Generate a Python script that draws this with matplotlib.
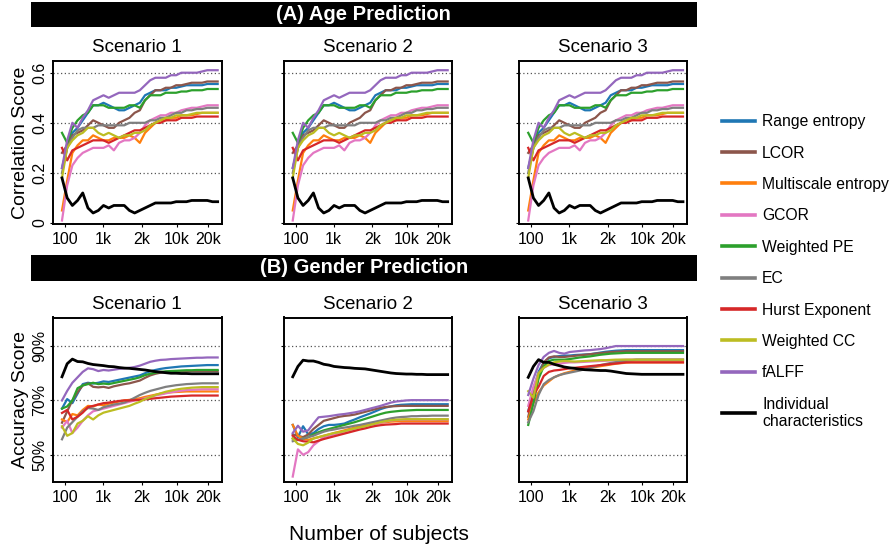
import matplotlib
matplotlib.use("Agg")
import matplotlib.pyplot as plt
from matplotlib.patches import Rectangle

plt.rcParams['font.family'] = ['Liberation Sans', 'DejaVu Sans']

# ---- data (31 steps along the subject-count axis) ----
tick_pos = [0.6, 7.9, 15.4, 22.1, 28.1]
tick_labels = ['100', '1k', '2k', '10k', '20k']

feature_names = ['Range entropy', 'LCOR', 'Multiscale entropy', 'GCOR', 'Weighted PE',
                 'EC', 'Hurst Exponent', 'Weighted CC', 'fALFF', 'Individual\ncharacteristics']
feature_colors = ['#1f77b4', '#8c564b', '#ff7f0e', '#e377c2', '#2ca02c',
                  '#7f7f7f', '#d62728', '#bcbd22', '#9467bd', '#000000']
scenarios = ['Scenario 1', 'Scenario 2', 'Scenario 3']

# Age prediction (correlation), same curves in all three scenarios
age_range_entropy = [0.22, 0.30, 0.36, 0.38, 0.41, 0.44, 0.47, 0.47, 0.48, 0.47, 0.46, 0.45, 0.45, 0.46, 0.47, 0.48,
                     0.51, 0.52, 0.53, 0.53, 0.53, 0.54, 0.54, 0.545, 0.55, 0.55, 0.55, 0.55, 0.555, 0.555, 0.555]
age_lcor = [0.28, 0.31, 0.35, 0.36, 0.37, 0.39, 0.41, 0.40, 0.39, 0.38, 0.38, 0.40, 0.41, 0.42, 0.44, 0.45,
            0.49, 0.51, 0.53, 0.53, 0.54, 0.54, 0.55, 0.55, 0.555, 0.56, 0.56, 0.56, 0.565, 0.565, 0.565]
age_multiscale = [0.05, 0.17, 0.28, 0.31, 0.33, 0.33, 0.35, 0.34, 0.33, 0.33, 0.34, 0.34, 0.34, 0.35, 0.34, 0.32,
                  0.36, 0.38, 0.40, 0.41, 0.41, 0.42, 0.42, 0.43, 0.43, 0.43, 0.435, 0.44, 0.44, 0.44, 0.44]
age_gcor = [0.01, 0.15, 0.23, 0.26, 0.28, 0.29, 0.30, 0.30, 0.30, 0.31, 0.29, 0.32, 0.33, 0.33, 0.34, 0.36,
            0.39, 0.41, 0.42, 0.43, 0.43, 0.44, 0.44, 0.45, 0.455, 0.46, 0.46, 0.465, 0.47, 0.47, 0.47]
age_weighted_pe = [0.36, 0.32, 0.38, 0.41, 0.43, 0.44, 0.47, 0.47, 0.47, 0.46, 0.46, 0.46, 0.46, 0.47, 0.47, 0.46,
                   0.49, 0.51, 0.51, 0.51, 0.52, 0.52, 0.52, 0.525, 0.525, 0.53, 0.53, 0.53, 0.535, 0.535, 0.535]
age_ec = [0.20, 0.30, 0.34, 0.37, 0.38, 0.38, 0.38, 0.39, 0.39, 0.39, 0.39, 0.39, 0.39, 0.40, 0.40, 0.40,
          0.40, 0.41, 0.41, 0.42, 0.42, 0.43, 0.44, 0.44, 0.45, 0.45, 0.455, 0.455, 0.46, 0.46, 0.46]
age_hurst = [0.30, 0.25, 0.29, 0.30, 0.31, 0.32, 0.33, 0.33, 0.33, 0.32, 0.33, 0.34, 0.35, 0.36, 0.37, 0.37,
             0.38, 0.39, 0.40, 0.40, 0.41, 0.41, 0.41, 0.42, 0.42, 0.42, 0.425, 0.425, 0.425, 0.425, 0.425]
age_weighted_cc = [0.18, 0.30, 0.33, 0.35, 0.36, 0.38, 0.38, 0.36, 0.35, 0.36, 0.35, 0.34, 0.35, 0.35, 0.36, 0.36,
                   0.37, 0.39, 0.40, 0.41, 0.42, 0.42, 0.43, 0.43, 0.43, 0.435, 0.44, 0.44, 0.44, 0.44, 0.44]
age_falff = [0.22, 0.33, 0.40, 0.38, 0.42, 0.45, 0.49, 0.50, 0.51, 0.50, 0.51, 0.52, 0.52, 0.52, 0.52, 0.53,
             0.55, 0.57, 0.58, 0.58, 0.58, 0.59, 0.59, 0.60, 0.60, 0.60, 0.60, 0.605, 0.61, 0.61, 0.61]
age_individual = [0.18, 0.10, 0.07, 0.09, 0.12, 0.06, 0.04, 0.05, 0.07, 0.06, 0.07, 0.07, 0.07, 0.05, 0.04, 0.05,
                  0.06, 0.07, 0.08, 0.08, 0.08, 0.08, 0.085, 0.085, 0.085, 0.09, 0.09, 0.09, 0.09, 0.085, 0.085]

# Gender prediction (accuracy %), scenario 1
g1_range_entropy = [67, 70.5, 69, 72.5, 76, 76.5, 76.2, 76.5, 77, 76.8, 77.2, 77.6, 78.0, 78.4, 78.8, 79.2,
                    80.0, 80.7, 81.2, 81.6, 81.9, 82.1, 82.3, 82.5, 82.6, 82.7, 82.8, 82.9, 83.0, 83.0, 83.0]
g1_lcor = [61.8, 66, 70, 73, 75.5, 76.3, 75, 74.8, 75, 74.6, 75.2, 75.6, 76, 76.3, 76.8, 77.3,
           78.3, 79.2, 79.8, 80.2, 80.5, 80.6, 80.7, 80.8, 80.8, 80.8, 80.8, 80.8, 80.8, 80.8, 80.8]
g1_multiscale = [63, 62, 65, 64.5, 66.5, 68, 67.8, 68.5, 68.2, 68.8, 69.2, 69.6, 70, 70.2, 70.5, 70.8,
                 71.3, 71.7, 72.1, 72.5, 72.8, 73, 73.1, 73.2, 73.3, 73.3, 73.3, 73.3, 73.3, 73.3, 73.3]
g1_gcor = [60, 62.5, 58, 60, 62.5, 64.5, 66, 66.5, 67, 67.5, 68, 68.5, 69, 69.5, 70, 70.3,
           70.8, 71.3, 71.8, 72.2, 72.6, 73, 73.3, 73.6, 73.8, 73.9, 74, 74.1, 74.1, 74.1, 74.1]
g1_weighted_pe = [67, 67.8, 70, 74.5, 75.5, 76, 76.5, 76, 76.2, 76, 76.4, 76.8, 77.2, 77.6, 78, 78.5,
                  79.3, 79.8, 80.2, 80.5, 80.7, 80.8, 80.9, 81.0, 81.1, 81.1, 81.2, 81.2, 81.2, 81.2, 81.2]
g1_ec = [55.7, 60, 62, 64, 66, 67.2, 67, 66.5, 67.5, 68, 68.5, 68.8, 69.2, 70, 71, 72,
         72.8, 73.5, 74, 74.5, 75, 75.3, 75.6, 75.8, 76, 76.1, 76.2, 76.3, 76.3, 76.3, 76.3]
g1_hurst = [65.4, 66.5, 63, 64, 65.5, 67.5, 68, 68.5, 69, 69.2, 69.5, 69.8, 70, 70, 70.1, 70.2,
            70.4, 70.6, 70.8, 71, 71.2, 71.4, 71.5, 71.6, 71.7, 71.8, 71.8, 71.8, 71.8, 71.8, 71.8]
g1_weighted_cc = [60.5, 57, 58, 61.5, 62.5, 64.2, 63, 64.5, 65.5, 66, 66.5, 67, 67.5, 68, 68.8, 69.5,
                  70.5, 71.2, 72, 72.6, 73.2, 73.6, 74, 74.3, 74.5, 74.7, 74.8, 74.9, 74.9, 74.9, 74.9]
g1_falff = [70, 73.5, 76.5, 78.5, 80.5, 81.8, 81.5, 80.8, 81.2, 81.0, 81.3, 81.6, 81.8, 82.0, 82.3, 82.8,
            83.5, 84.2, 84.6, 84.9, 85.0, 85.2, 85.3, 85.4, 85.5, 85.6, 85.7, 85.7, 85.8, 85.8, 85.8]
g1_individual = [78.7, 83.5, 85.2, 84.3, 84.2, 83.6, 83.2, 83.0, 82.8, 82.5, 82.4, 82.1, 81.9, 81.8, 81.6, 81.4,
                 81.2, 80.9, 80.6, 80.4, 80.2, 80.0, 80.0, 79.9, 79.9, 79.8, 79.8, 79.8, 79.8, 79.8, 79.8]

# Gender prediction, scenario 2
g2_range_entropy = [61, 56.5, 60.5, 57.5, 58, 59.5, 60.5, 61, 61, 61.2, 61.5, 62.3, 63, 63.8, 64.5, 65.2,
                    66, 66.8, 67.4, 67.8, 68.2, 68.4, 68.5, 68.6, 68.6, 68.6, 68.6, 68.6, 68.6, 68.6, 68.6]
g2_lcor = [57.5, 57, 56.5, 57.5, 59.5, 61, 62.5, 63, 63.5, 64, 64.3, 64.5, 64.8, 65.3, 65.8, 66.3,
           66.8, 67.3, 67.6, 67.8, 67.9, 68, 68, 68, 68, 68, 68, 68, 68, 68, 68]
g2_multiscale = [61, 57, 56, 55.5, 56, 56.5, 57, 57.5, 58, 58.5, 59, 59.5, 60, 60.5, 60.8, 61.2,
                 61.5, 61.8, 62, 62.2, 62.3, 62.4, 62.4, 62.4, 62.4, 62.4, 62.4, 62.4, 62.4, 62.4, 62.4]
g2_gcor = [42, 52, 50, 51, 53.5, 55, 56.5, 57, 57.5, 58, 58.3, 58.8, 59.3, 59.8, 60.3, 60.8,
           61.3, 61.8, 62.3, 62.6, 62.8, 62.9, 63, 63, 63, 63, 63, 63, 63, 63, 63]
g2_weighted_pe = [56, 55.5, 56, 56.5, 57.5, 58.3, 59, 59.5, 60, 60.5, 61, 61.5, 62, 62.6, 63.2, 63.8,
                  64.4, 65, 65.5, 65.8, 66, 66.2, 66.3, 66.4, 66.5, 66.5, 66.5, 66.5, 66.5, 66.5, 66.5]
g2_ec = [55, 55.5, 56, 56.5, 57, 57.8, 58.5, 59, 59.3, 59.7, 60, 60.3, 60.7, 61, 61.4, 61.8,
         62.2, 62.6, 63, 63.4, 63.7, 63.9, 64, 64.2, 64.2, 64.3, 64.3, 64.4, 64.4, 64.4, 64.4]
g2_hurst = [57, 55.5, 55, 54.8, 54.6, 55.2, 55.8, 56.3, 56.8, 57.3, 57.8, 58.3, 58.8, 59.3, 59.7, 60.2,
            60.6, 60.9, 61.1, 61.2, 61.3, 61.5, 61.5, 61.5, 61.5, 61.5, 61.5, 61.5, 61.5, 61.5, 61.5]
g2_weighted_cc = [56, 54, 53.5, 54.5, 56, 56.5, 57, 57.5, 58, 58.3, 58.7, 59.2, 59.7, 60.1, 60.5, 61,
                  61.5, 62, 62.4, 62.7, 62.9, 63, 63.1, 63.1, 63.1, 63.1, 63.1, 63.1, 63.1, 63.1, 63.1]
g2_falff = [58, 60.7, 58.5, 59, 61.5, 63.8, 64, 64.2, 64.5, 64.8, 65, 65.3, 65.6, 66, 66.5, 67,
            67.5, 68, 68.6, 69.2, 69.6, 69.8, 70, 70.1, 70.1, 70.1, 70.1, 70.1, 70.1, 70.1, 70.1]
g2_individual = [78.7, 82.5, 84.8, 84.5, 84.5, 84, 83.3, 83, 82.5, 82.3, 82.1, 82, 81.8, 81.7, 81.6, 81.3,
                 81, 80.7, 80.4, 80.1, 79.9, 79.8, 79.7, 79.7, 79.6, 79.6, 79.5, 79.5, 79.5, 79.5, 79.5]

# Gender prediction, scenario 3
g3_range_entropy = [66, 74, 80.5, 84, 85.5, 86, 86.3, 86.5, 86.5, 86.7, 86.8, 86.9, 87, 87.3, 87.6, 87.9,
                    88.1, 88.3, 88.4, 88.5, 88.5, 88.5, 88.5, 88.5, 88.5, 88.5, 88.5, 88.5, 88.5, 88.5, 88.5]
g3_lcor = [64, 72, 79, 84, 85.8, 86.2, 86, 86, 86.2, 86.4, 86.6, 86.8, 87, 87.2, 87.4, 87.6,
           87.8, 87.9, 88, 88.1, 88.1, 88.1, 88.1, 88.1, 88.1, 88.1, 88.1, 88.1, 88.1, 88.1, 88.1]
g3_multiscale = [63, 69, 73, 75.5, 77, 78.5, 79.3, 80, 80.5, 81, 81.5, 81.8, 82, 82.3, 82.6, 82.9,
                 83.2, 83.5, 83.7, 83.9, 84, 84, 84, 84, 84, 84, 84, 84, 84, 84, 84]
g3_gcor = [68, 75, 80, 82, 83, 83.3, 83.5, 83.8, 84, 84, 84.1, 84.2, 84.3, 84.4, 84.5, 84.6,
           84.7, 84.8, 84.9, 85, 85, 85, 85, 85, 85, 85, 85, 85, 85, 85, 85]
g3_weighted_pe = [61, 69, 78, 82.5, 84.5, 85, 85, 85, 85.2, 85.5, 85.8, 86, 86.2, 86.5, 86.8, 87,
                  87.2, 87.3, 87.4, 87.5, 87.5, 87.5, 87.5, 87.5, 87.5, 87.5, 87.5, 87.5, 87.5, 87.5, 87.5]
g3_ec = [62, 66, 72, 76, 77.5, 78.5, 79.3, 79.8, 80.2, 80.6, 81, 81.5, 82, 82.5, 83, 83.4,
         83.8, 84.1, 84.4, 84.6, 84.8, 85, 85, 85, 85, 85, 85, 85, 85, 85, 85]
g3_hurst = [66, 72, 75, 79, 80.5, 81, 81.2, 81.5, 81.8, 82, 82.2, 82.4, 82.6, 82.8, 83, 83.2,
            83.4, 83.6, 83.8, 84, 84, 84, 84, 84, 84, 84, 84, 84, 84, 84, 84]
g3_weighted_cc = [73.4, 71, 80, 82, 83.2, 84, 84.3, 84.5, 84.4, 84.3, 84.4, 84.5, 84.6, 84.7, 84.8, 84.8,
                  84.9, 85, 85, 85, 85, 85, 85, 85, 85, 85, 85, 85, 85, 85, 85]
g3_falff = [72, 78, 83, 86, 87.5, 88.2, 87.5, 87.2, 87.8, 88, 88.2, 88.4, 88.5, 88.7, 88.9, 89.2,
            89.6, 90, 90, 90, 90, 90, 90, 90, 90, 90, 90, 90, 90, 90, 90]
g3_individual = [78.5, 82.5, 85, 84, 84, 83.3, 82.8, 82.3, 82, 81.8, 81.5, 81.3, 81.2, 81.1, 81, 81,
                 80.8, 80.5, 80.2, 79.9, 79.8, 79.7, 79.6, 79.6, 79.6, 79.6, 79.6, 79.6, 79.6, 79.6, 79.6]

age_series = [age_range_entropy, age_lcor, age_multiscale, age_gcor, age_weighted_pe,
              age_ec, age_hurst, age_weighted_cc, age_falff, age_individual]
gender_series = [
    [g1_range_entropy, g1_lcor, g1_multiscale, g1_gcor, g1_weighted_pe,
     g1_ec, g1_hurst, g1_weighted_cc, g1_falff, g1_individual],
    [g2_range_entropy, g2_lcor, g2_multiscale, g2_gcor, g2_weighted_pe,
     g2_ec, g2_hurst, g2_weighted_cc, g2_falff, g2_individual],
    [g3_range_entropy, g3_lcor, g3_multiscale, g3_gcor, g3_weighted_pe,
     g3_ec, g3_hurst, g3_weighted_cc, g3_falff, g3_individual],
]

W, H = 896, 547
fig = plt.figure(figsize=(W / 100, H / 100), dpi=100)


def px_axes(x0, y0, x1, y1):
    """Add axes given pixel box (top-left origin)."""
    return fig.add_axes([x0 / W, 1 - y1 / H, (x1 - x0) / W, (y1 - y0) / H])


def banner(y0, y1, text):
    fig.add_artist(Rectangle((30.7 / W, 1 - y1 / H), (697 - 30.7) / W, (y1 - y0) / H,
                             transform=fig.transFigure, facecolor='black', edgecolor='none'))
    fig.text((30.7 + 697) / 2 / W, 1 - (y0 + y1) / 2 / H, text, color='white',
             fontsize=14.5, fontweight='bold', ha='center', va='center')


def style_axes(ax, show_ylabels):
    ax.set_xlim(-1.79, 30.78)
    ax.set_xticks(tick_pos)
    ax.set_xticklabels(tick_labels)
    ax.tick_params(axis='x', labelsize=11.5, length=2, pad=4)
    ax.tick_params(axis='y', labelsize=11.5, length=2, pad=2, labelleft=show_ylabels)
    for lbl in ax.get_yticklabels():
        lbl.set_rotation(90)
        lbl.set_va('center')
    for sp in ax.spines.values():
        sp.set_linewidth(1.4)


col_x = [(52.7, 221.7), (283.5, 451.7), (519, 687)]
x = list(range(31))

banner(2.5, 27, '(A) Age Prediction')
banner(255.5, 280.5, '(B) Gender Prediction')

lines_for_legend = []
for c, (x0, x1) in enumerate(col_x):
    ax = px_axes(x0, 60.7, x1, 224)
    for ref in [0.2, 0.4, 0.6]:
        ax.axhline(ref, color='#555555', linestyle=(0, (1, 2)), linewidth=0.9, zorder=0)
    for vals, col in zip(age_series, feature_colors):
        lw = 2.0 if col == '#000000' else 1.6
        ax.plot(x, vals, color=col, linewidth=lw)
    ax.set_ylim(-0.004, 0.648)
    ax.set_yticks([0, 0.2, 0.4, 0.6])
    ax.set_yticklabels(['0', '0.2', '0.4', '0.6'])
    style_axes(ax, c == 0)
    ax.set_title(scenarios[c], fontsize=13.5, pad=6)
    if c == 0:
        ax.set_ylabel('Correlation Score', fontsize=14, labelpad=2)

    ax = px_axes(x0, 317.5, x1, 482)
    for ref in [50, 70, 90]:
        ax.axhline(ref, color='#555555', linestyle=(0, (1, 2)), linewidth=0.9, zorder=0)
    for vals, col, name in zip(gender_series[c], feature_colors, feature_names):
        lw = 2.0 if col == '#000000' else 1.6
        ln, = ax.plot(x, vals, color=col, linewidth=lw, label=name)
        if c == 0:
            lines_for_legend.append(ln)
    ax.set_ylim(40, 100.5)
    ax.set_yticks([50, 70, 90])
    ax.set_yticklabels(['50%', '70%', '90%'])
    style_axes(ax, c == 0)
    ax.set_title(scenarios[c], fontsize=13.5, pad=6)
    if c == 0:
        ax.set_ylabel('Accuracy Score', fontsize=14, labelpad=2)

fig.legend(handles=lines_for_legend, loc='upper left', bbox_to_anchor=(708 / W, 1 - 100 / H),
           frameon=False, fontsize=11.3, handlelength=2.1, handletextpad=0.45,
           labelspacing=1.045)
for ln in fig.legends[0].get_lines():
    ln.set_linewidth(2.6)

fig.text(379 / W, 1 - 535 / H, 'Number of subjects', fontsize=15, ha='center', va='center')

fig.savefig('out.png', dpi=100)
